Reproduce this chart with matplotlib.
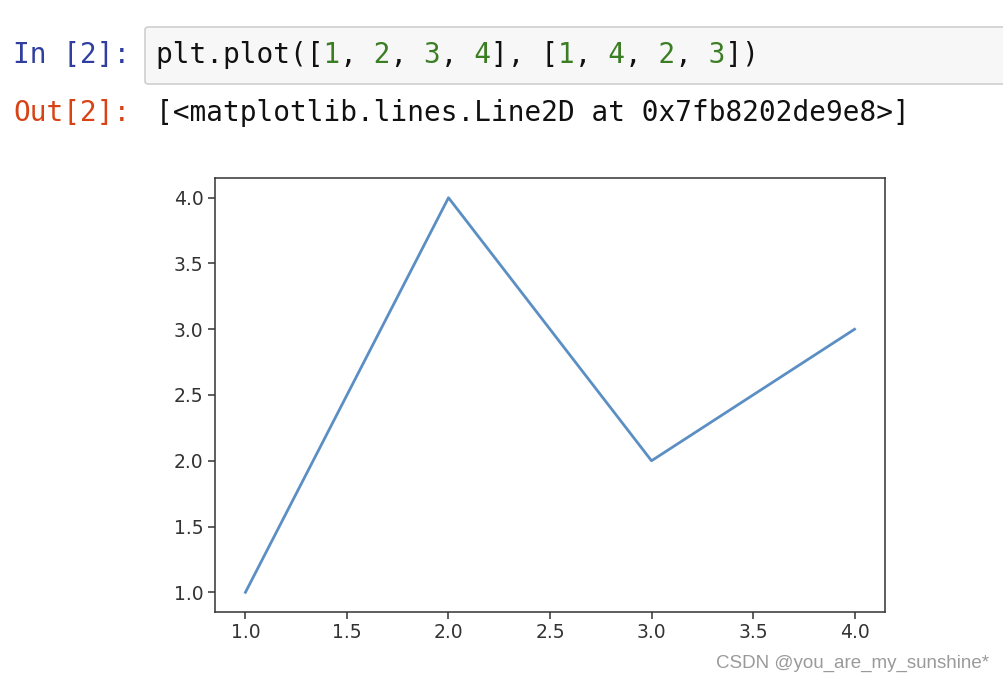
import matplotlib
matplotlib.use('Agg')
import matplotlib.pyplot as plt
from matplotlib.patches import FancyBboxPatch

# Dữ liệu
x_vals = [1, 2, 3, 4]
y_vals = [1, 4, 2, 3]
x_ticks = [1.0, 1.5, 2.0, 2.5, 3.0, 3.5, 4.0]
y_ticks = [1.0, 1.5, 2.0, 2.5, 3.0, 3.5, 4.0]

W, H = 1004, 684
fig = plt.figure(figsize=(W / 100, H / 100), dpi=100)


def fx(px):
    return px / W


def fy(py):
    return 1 - py / H


mono = 'DejaVu Sans Mono'
fs_code = 20

# ô code
box = FancyBboxPatch((fx(145), fy(84)), fx(880), 57 / H,
                     boxstyle='round,pad=0,rounding_size=0.004',
                     transform=fig.transFigure, facecolor='#f7f7f7',
                     edgecolor='#cfcfcf', linewidth=1.2)
fig.patches.append(box)

fig.text(fx(13), fy(55), 'In [2]:', family=mono, fontsize=fs_code,
         color='#303F9F', va='center')
code = 'plt.plot([1, 2, 3, 4], [1, 4, 2, 3])'
black = ''.join(' ' if c.isdigit() else c for c in code)
green = ''.join(c if c.isdigit() else ' ' for c in code)
fig.text(fx(156), fy(55), black, family=mono, fontsize=fs_code,
         color='#111111', va='center')
fig.text(fx(156), fy(55), green, family=mono, fontsize=fs_code,
         color='#3a7d23', va='center')

fig.text(fx(13), fy(113), 'Out[2]:', family=mono, fontsize=fs_code,
         color='#D84315', va='center')
fig.text(fx(156), fy(113), '[<matplotlib.lines.Line2D at 0x7fb8202de9e8>]',
         family=mono, fontsize=fs_code, color='#111111', va='center')

# biểu đồ
ax = fig.add_axes([fx(215), fy(612), fx(885 - 215), (612 - 178) / H])
ax.plot(x_vals, y_vals, color='#5b8fc4', linewidth=2.0)
ax.set_xticks(x_ticks)
ax.set_yticks(y_ticks)
ax.tick_params(labelsize=13.5, length=4.7, width=1.1, colors='#333333',
               labelcolor='#333333')
for s in ax.spines.values():
    s.set_linewidth(1.1)
    s.set_color('#333333')

fig.text(fx(989), fy(663), 'CSDN @you_are_my_sunshine*', family='Liberation Sans',
         fontsize=13.5, color='#9a9a9a', ha='right', va='center')

fig.savefig('out.png', dpi=100, facecolor='white')
